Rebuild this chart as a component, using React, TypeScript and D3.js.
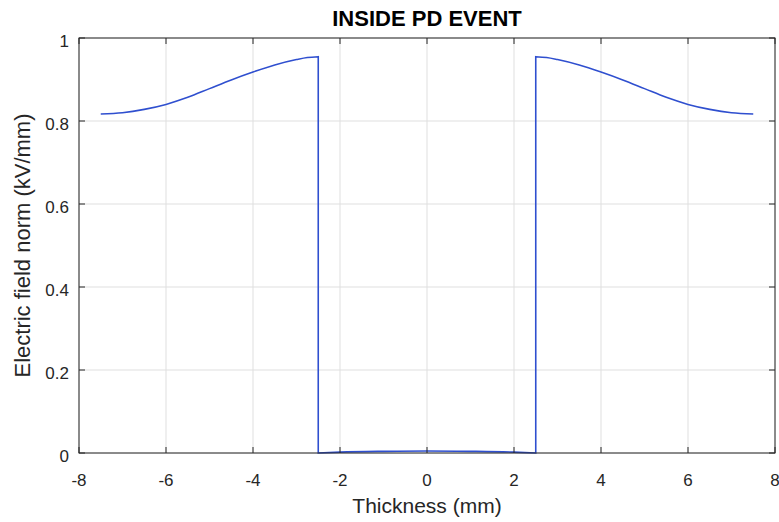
import React from "react";
import * as d3 from "d3";

const xTicks = [-8, -6, -4, -2, 0, 2, 4, 6, 8];
const yTicks = [0, 0.2, 0.4, 0.6, 0.8, 1];
// Left outer region (x in mm, field in kV/mm)
const leftX = [-7.5, -7.0, -6.5, -6.0, -5.5, -5.0, -4.5, -4.0, -3.5, -3.0, -2.75, -2.5];
const leftY = [0.817, 0.820, 0.828, 0.840, 0.857, 0.878, 0.899, 0.918, 0.935, 0.948, 0.953, 0.955];
// Inner cavity
const innerX = [-2.5, -2.0, -1.0, 0, 1.0, 2.0, 2.5];
const innerY = [0.0, 0.002, 0.004, 0.005, 0.004, 0.002, 0.0];
// Right outer region
const rightX = [2.5, 2.75, 3.0, 3.5, 4.0, 4.5, 5.0, 5.5, 6.0, 6.5, 7.0, 7.5];
const rightY = [0.955, 0.953, 0.948, 0.935, 0.918, 0.899, 0.878, 0.857, 0.840, 0.828, 0.820, 0.817];

export default function App() {
  const W = 779, H = 522;
  const m = { l: 79, r: 4, t: 38, b: 69 };
  const x = d3.scaleLinear().domain([-8, 8]).range([m.l, W - m.r]);
  const y = d3.scaleLinear().domain([0, 1]).range([H - m.b, m.t]);
  const seg = d3.line<[number, number]>().x(d => x(d[0])).y(d => y(d[1])).curve(d3.curveMonotoneX);
  const path =
    seg(leftX.map((v, i) => [v, leftY[i]] as [number, number]))! +
    "L" + seg(innerX.map((v, i) => [v, innerY[i]] as [number, number]))!.slice(1) +
    "L" + seg(rightX.map((v, i) => [v, rightY[i]] as [number, number]))!.slice(1);
  const font = "Helvetica, Arial, 'Liberation Sans', sans-serif";
  const tc = "#262626";
  return (
    <svg width={W} height={H} style={{ position: "absolute", left: 0, top: 0, background: "#fff" }} fontFamily={font}>
      <rect x={0} y={0} width={W} height={H} fill="#fff" />
      {xTicks.map(t => (
        <line key={"gx" + t} x1={x(t)} x2={x(t)} y1={y(0)} y2={y(1)} stroke="#dfdfdf" strokeWidth={1} />
      ))}
      {yTicks.map(t => (
        <line key={"gy" + t} x1={x(-8)} x2={x(8)} y1={y(t)} y2={y(t)} stroke="#dfdfdf" strokeWidth={1} />
      ))}
      <path d={path} fill="none" stroke="#2f4fcf" strokeWidth={1.6} />
      <rect x={x(-8)} y={y(1)} width={x(8) - x(-8)} height={y(0) - y(1)} fill="none" stroke={tc} strokeWidth={1} />
      {xTicks.map(t => (
        <g key={"tx" + t}>
          <line x1={x(t)} x2={x(t)} y1={y(0)} y2={y(0) - 6} stroke={tc} />
          <line x1={x(t)} x2={x(t)} y1={y(1)} y2={y(1) + 6} stroke={tc} />
          <text x={x(t)} y={y(0) + 33} textAnchor="middle" fontSize={17} fill={tc}>{t}</text>
        </g>
      ))}
      {yTicks.map(t => (
        <g key={"ty" + t}>
          <line x1={x(-8)} x2={x(-8) + 6} y1={y(t)} y2={y(t)} stroke={tc} />
          <line x1={x(8)} x2={x(8) - 6} y1={y(t)} y2={y(t)} stroke={tc} />
          <text x={x(-8) - 10} y={y(t) + 9} textAnchor="end" fontSize={17} fill={tc}>{t === 0 || t === 1 ? t : t.toFixed(1)}</text>
        </g>
      ))}
      <text x={(x(-8) + x(8)) / 2} y={26} textAnchor="middle" fontSize={22} fontWeight="bold" fill="#000">INSIDE PD EVENT</text>
      <text x={(x(-8) + x(8)) / 2} y={513} textAnchor="middle" fontSize={21} fill={tc}>Thickness (mm)</text>
      <text transform={`translate(30,${(y(0) + y(1)) / 2}) rotate(-90)`} textAnchor="middle" fontSize={22} fill={tc}>Electric field norm (kV/mm)</text>
    </svg>
  );
}
